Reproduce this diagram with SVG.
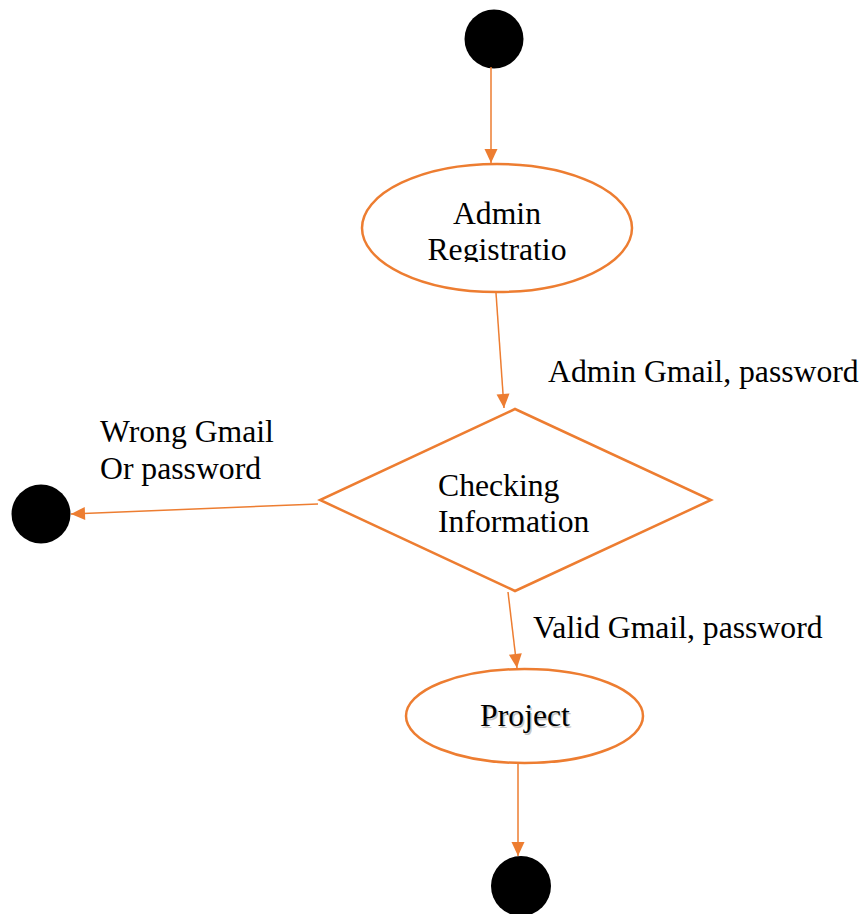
<svg xmlns="http://www.w3.org/2000/svg" width="866" height="914" viewBox="0 0 866 914">
  <style>
    .shape { fill: #ffffff; stroke: #ED7D31; stroke-width: 2.5; }
    .conn { fill: none; stroke: #ED7D31; stroke-width: 1.5; }
    .dot { fill: #000000; }
    text { font-family: "Liberation Serif", "Times New Roman", serif; font-size: 31.7px; fill: #000000; }
    .shadow { fill: #9a9a9a; opacity: 0.55; }
  </style>
  <defs>
    <marker id="arrow" markerUnits="userSpaceOnUse" markerWidth="16" markerHeight="16" viewBox="0 0 16 16" refX="15" refY="8" orient="auto">
      <path d="M1,1.5 L15,8 L1,14.5 Z" fill="#ED7D31"/>
    </marker>
    <clipPath id="clipReg">
      <rect x="360" y="150" width="280" height="112"/>
    </clipPath>
  </defs>

  <g id="start">
    <circle class="dot" cx="494" cy="39" r="29.5"/>
  </g>

  <g id="admin-registration">
    <ellipse class="shape" cx="497" cy="228" rx="135" ry="64"/>
    <g clip-path="url(#clipReg)">
      <text x="497" y="224" text-anchor="middle">Admin</text>
      <text x="497" y="260" text-anchor="middle">Registratio</text>
    </g>
  </g>

  <g id="checking-information">
    <polygon class="shape" points="515,409 711,500 515,591 320,500"/>
    <text x="438" y="496">Checking</text>
    <text x="438" y="532">Information</text>
  </g>

  <g id="wrong-end">
    <circle class="dot" cx="41" cy="514" r="29.5"/>
  </g>

  <g id="project">
    <ellipse class="shape" cx="524.5" cy="716" rx="118.5" ry="47"/>
    <text class="shadow" x="526.5" y="727.5" text-anchor="middle">Project</text>
    <text x="525" y="726" text-anchor="middle">Project</text>
  </g>

  <g id="end">
    <circle class="dot" cx="521" cy="886" r="30"/>
  </g>

  <g id="connectors">
    <line class="conn" x1="491" y1="67" x2="491" y2="163" marker-end="url(#arrow)"/>
    <line class="conn" x1="496" y1="293" x2="504" y2="408" marker-end="url(#arrow)"/>
    <line class="conn" x1="318" y1="504" x2="71" y2="514" marker-end="url(#arrow)"/>
    <line class="conn" x1="508" y1="592" x2="517" y2="668" marker-end="url(#arrow)"/>
    <line class="conn" x1="518" y1="764" x2="518" y2="856" marker-end="url(#arrow)"/>
  </g>

  <g id="labels">
    <text x="548" y="382">Admin Gmail, password</text>
    <text x="100" y="442">Wrong Gmail</text>
    <text x="100" y="479">Or password</text>
    <text x="533" y="638">Valid Gmail, password</text>
  </g>
</svg>
